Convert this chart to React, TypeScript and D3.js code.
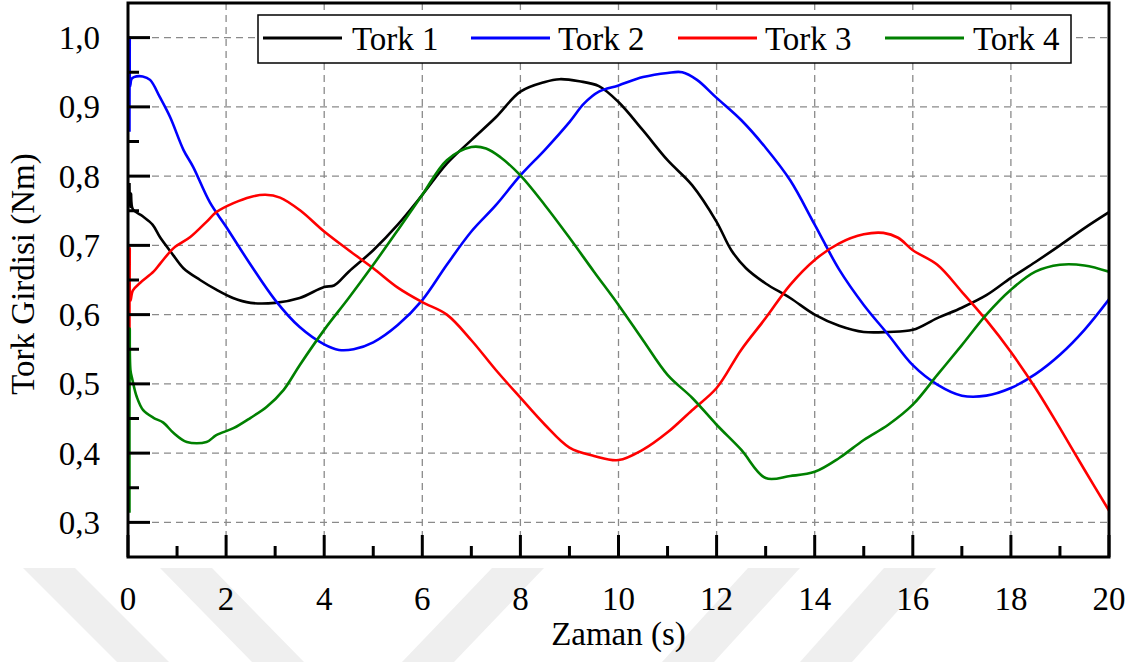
import React from "react";
import * as d3 from "d3";

// Torque input traces: [time (s), torque (Nm)]
const tork1: [number, number][] = [
  [0.03, 0.79], [0.04, 0.755], [0.06, 0.775], [0.1, 0.752], [0.3, 0.742], [0.5, 0.73],
  [0.65, 0.712], [0.9, 0.688], [1.13, 0.667], [1.47, 0.65], [1.8, 0.636], [2.14, 0.624],
  [2.5, 0.617], [3.0, 0.617], [3.5, 0.624], [4, 0.64], [4.2, 0.642], [4.5, 0.662],
  [5, 0.693], [5.5, 0.73], [6, 0.773], [6.5, 0.818], [7, 0.852], [7.5, 0.885],
  [8, 0.922], [8.5, 0.936], [8.8, 0.94], [9.2, 0.937], [9.6, 0.93], [10, 0.907],
  [10.5, 0.866], [11, 0.823], [11.5, 0.787], [12, 0.734], [12.3, 0.693], [12.6, 0.667],
  [13, 0.645], [13.5, 0.624], [14, 0.6], [14.5, 0.584], [15, 0.575], [15.5, 0.575],
  [16, 0.578], [16.5, 0.595], [17, 0.61], [17.5, 0.628], [18, 0.653], [18.5, 0.676],
  [19, 0.7], [19.5, 0.725], [20, 0.748],
];

const tork2: [number, number][] = [
  [0.03, 0.864], [0.035, 1.0], [0.045, 0.93], [0.07, 0.94], [0.12, 0.943], [0.3, 0.944],
  [0.45, 0.939], [0.65, 0.914], [0.86, 0.885], [1.13, 0.838], [1.33, 0.813], [1.67, 0.762],
  [2, 0.727], [2.5, 0.672], [3, 0.621], [3.5, 0.582], [4, 0.557], [4.3, 0.549],
  [4.6, 0.55], [5, 0.56], [5.5, 0.585], [6, 0.621], [6.5, 0.672], [7, 0.72],
  [7.5, 0.758], [8, 0.801], [8.5, 0.838], [9, 0.878], [9.3, 0.905], [9.6, 0.922],
  [10, 0.931], [10.5, 0.943], [11, 0.949], [11.3, 0.95], [11.6, 0.939], [12, 0.913],
  [12.5, 0.881], [13, 0.841], [13.5, 0.794], [14, 0.73], [14.5, 0.665], [15, 0.614],
  [15.5, 0.571], [16, 0.527], [16.5, 0.499], [17, 0.483], [17.5, 0.483], [18, 0.494],
  [18.5, 0.514], [19, 0.542], [19.5, 0.578], [20, 0.622],
];

const tork3: [number, number][] = [
  [0.03, 0.578], [0.035, 0.696], [0.05, 0.62], [0.1, 0.635], [0.25, 0.646], [0.52, 0.662],
  [0.66, 0.674], [0.93, 0.696], [1.27, 0.712], [1.6, 0.734], [1.8, 0.748], [2.15, 0.761],
  [2.5, 0.77], [2.8, 0.773], [3.1, 0.769], [3.5, 0.751], [4, 0.72], [4.5, 0.693],
  [5, 0.667], [5.5, 0.639], [6, 0.618], [6.5, 0.6], [7, 0.563], [7.5, 0.52],
  [8, 0.48], [8.5, 0.441], [9, 0.408], [9.5, 0.396], [10, 0.39], [10.5, 0.405],
  [11, 0.43], [11.5, 0.462], [12, 0.494], [12.5, 0.549], [13, 0.595], [13.5, 0.643],
  [14, 0.679], [14.5, 0.703], [15, 0.716], [15.4, 0.718], [15.7, 0.711], [16, 0.693],
  [16.5, 0.672], [17, 0.633], [17.5, 0.592], [18, 0.546], [18.5, 0.494], [19, 0.436],
  [19.5, 0.376], [20, 0.317],
];

const tork4: [number, number][] = [
  [0.03, 0.314], [0.035, 0.58], [0.05, 0.52], [0.09, 0.506], [0.18, 0.481], [0.31, 0.462],
  [0.52, 0.451], [0.72, 0.444], [0.93, 0.429], [1.2, 0.416], [1.6, 0.416], [1.8, 0.426],
  [2.15, 0.436], [2.5, 0.451], [2.83, 0.467], [3.17, 0.491], [3.5, 0.527], [4, 0.578],
  [4.5, 0.624], [5, 0.672], [5.5, 0.722], [6, 0.773], [6.5, 0.823], [7, 0.842],
  [7.3, 0.84], [7.6, 0.827], [8, 0.801], [8.5, 0.758], [9, 0.711], [9.5, 0.662],
  [10, 0.614], [10.5, 0.563], [11, 0.513], [11.5, 0.48], [12, 0.441], [12.5, 0.405],
  [13, 0.364], [13.5, 0.367], [14, 0.373], [14.5, 0.393], [15, 0.419], [15.5, 0.441],
  [16, 0.47], [16.5, 0.513], [17, 0.556], [17.5, 0.6], [18, 0.636], [18.5, 0.662],
  [19, 0.672], [19.5, 0.671], [20, 0.662],
];

const seriesNames = ["Tork 1", "Tork 2", "Tork 3", "Tork 4"];
const seriesColors = ["#000000", "#0000ff", "#ff0000", "#008000"];
const seriesData = [tork1, tork2, tork3, tork4];

const xTicks = [0, 2, 4, 6, 8, 10, 12, 14, 16, 18, 20];
const yTicks = [0.3, 0.4, 0.5, 0.6, 0.7, 0.8, 0.9, 1.0];

const xLabel = "Zaman (s)";
const yLabel = "Tork Girdisi (Nm)";

const W = 1140;
const H = 662;
const L = 128, R = 1109, T = 3, B = 557;
const FONT_SIZE = 33;

// Faint diagonal background stripes below the axis
const stripes: { top: number; bottom: number }[] = [
  { top: 23, bottom: 117 },
  { top: 160, bottom: 252 },
  { top: 492, bottom: 402 },
  { top: 748, bottom: 662 },
  { top: 884, bottom: 800 },
];

// Serif label text
function Label(props: {
  x?: number;
  y?: number;
  dy?: string;
  anchor?: "start" | "middle" | "end";
  transform?: string;
  children: React.ReactNode;
}) {
  return (
    <text
      x={props.x}
      y={props.y}
      dy={props.dy}
      transform={props.transform}
      textAnchor={props.anchor || "start"}
      fontFamily="Liberation Serif"
      fontSize={FONT_SIZE}
      style={{ fontFamily: '"Liberation Serif"', fontSize: FONT_SIZE }}
    >
      {props.children}
    </text>
  );
}

export default function App() {
  const x = d3.scaleLinear().domain([0, 20]).range([L, R]);
  const y = d3.scaleLinear().domain([0.25, 1.05]).range([B, T]);
  const fmt = (v: number) => d3.format(".1f")(v).replace(".", ",");

  const line = d3
    .line<[number, number]>()
    .x((d) => x(d[0]))
    .y((d) => y(d[1]))
    .curve(d3.curveCatmullRom.alpha(0.5));

  const xMinor = d3.range(1, 20, 2);
  const yMinor = d3.range(0.35, 1.0, 0.1);

  const legendItems = [
    { lx: 263, tx: 352 },
    { lx: 471, tx: 558 },
    { lx: 678, tx: 765 },
    { lx: 885, tx: 973 },
  ];

  return (
    <svg
      width={W}
      height={H}
      style={{ position: "absolute", left: 0, top: 0, display: "block", background: "#fff" }}
    >
      <style>{`text { font-family: "Liberation Serif"; }`}</style>
      <defs>
        <clipPath id="plotClip">
          <rect x={L} y={T} width={R - L} height={B - T} />
        </clipPath>
      </defs>

      {stripes.map((s, i) => (
        <polygon
          key={i}
          points={`${s.top},568 ${s.top + 52},568 ${s.bottom + 52},662 ${s.bottom},662`}
          fill="#efefef"
        />
      ))}

      {/* grid */}
      <g stroke="#8a8a8a" strokeWidth={1.3} strokeDasharray="7,5">
        {xTicks.slice(1, -1).map((t) => (
          <line key={"gx" + t} x1={x(t)} x2={x(t)} y1={T} y2={B} />
        ))}
        {yTicks.map((t) => (
          <line key={"gy" + t} x1={L} x2={R} y1={y(t)} y2={y(t)} />
        ))}
      </g>

      {/* data */}
      <g clipPath="url(#plotClip)" fill="none" strokeWidth={2.6} strokeLinejoin="round">
        {seriesData.map((d, i) => (
          <path key={i} d={line(d) || ""} stroke={seriesColors[i]} />
        ))}
      </g>

      {/* legend */}
      <rect x={258} y={15} width={813} height={48} fill="#fff" stroke="#000" strokeWidth={1.5} />
      {seriesNames.map((n, i) => (
        <g key={n}>
          <line
            x1={legendItems[i].lx}
            x2={legendItems[i].lx + 79}
            y1={38}
            y2={38}
            stroke={seriesColors[i]}
            strokeWidth={3}
          />
          <Label x={legendItems[i].tx} y={50}>
            {n}
          </Label>
        </g>
      ))}

      {/* ticks */}
      <g stroke="#000" strokeWidth={3}>
        {yTicks.map((t) => (
          <line key={"ty" + t} x1={L} x2={L + 22} y1={y(t)} y2={y(t)} />
        ))}
        {yMinor.map((t) => (
          <line key={"tym" + t} x1={L} x2={L + 11} y1={y(t)} y2={y(t)} />
        ))}
        {xTicks.map((t) => (
          <line key={"tx" + t} x1={x(t)} x2={x(t)} y1={B} y2={B - 22} />
        ))}
        {xMinor.map((t) => (
          <line key={"txm" + t} x1={x(t)} x2={x(t)} y1={B} y2={B - 11} />
        ))}
      </g>

      {/* frame */}
      <rect x={L} y={T} width={R - L} height={B - T} fill="none" stroke="#000" strokeWidth={3} />

      {/* tick labels */}
      {yTicks.map((t) => (
        <Label key={"ly" + t} x={100} y={y(t)} dy="0.35em" anchor="end">
          {fmt(t)}
        </Label>
      ))}
      {xTicks.map((t) => (
        <Label key={"lx" + t} x={x(t)} y={610} anchor="middle">
          {t}
        </Label>
      ))}

      {/* axis titles */}
      <Label x={(L + R) / 2} y={645} anchor="middle">
        {xLabel}
      </Label>
      <Label transform="translate(34, 274) rotate(-90)" anchor="middle">
        {yLabel}
      </Label>
    </svg>
  );
}
